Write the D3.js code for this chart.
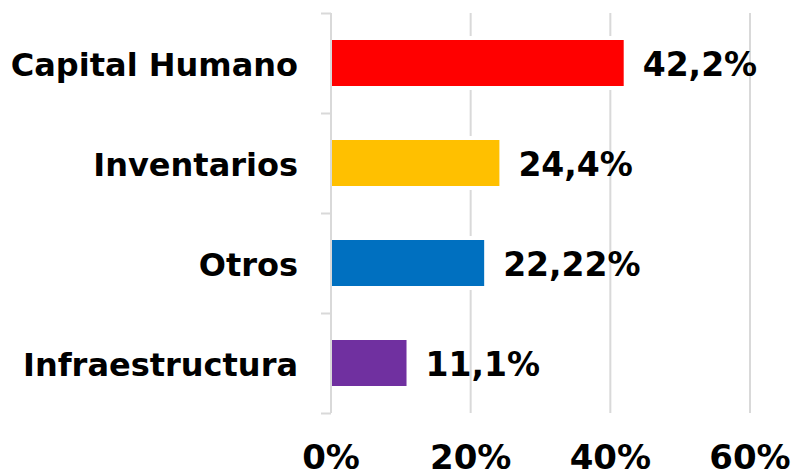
<!DOCTYPE html>
<html>
<head>
<meta charset="utf-8">
<script src="https://cdn.jsdelivr.net/npm/d3@7"></script>
<style>
  body { margin: 0; background: #fff; }
  text { font-family: "DejaVu Sans", Verdana, sans-serif; font-weight: bold; fill: #000; }
</style>
</head>
<body>
<svg id="chart" width="796" height="469"></svg>
<script>
// datos
const categorias = ["Capital Humano", "Inventarios", "Otros", "Infraestructura"];
const valores = [42.2, 24.4, 22.22, 11.1];
const etiquetas = ["42,2%", "24,4%", "22,22%", "11,1%"];
const colores = ["#FF0000", "#FFC000", "#0070C0", "#7030A0"];
const ticksX = [0, 20, 40, 60];

const svg = d3.select("#chart");

const x = d3.scaleLinear().domain([0, 60]).range([331, 750]);
const y = d3.scaleBand().domain(categorias).range([13, 413]).paddingInner(0.54).paddingOuter(0.27);

// lineas de cuadricula
svg.append("g")
  .selectAll("line")
  .data(ticksX.slice(1))
  .enter().append("line")
    .attr("x1", d => x(d)).attr("x2", d => x(d))
    .attr("y1", 13).attr("y2", 413)
    .attr("stroke", "#d9d9d9")
    .attr("stroke-width", 2);

// barras
svg.append("g")
  .selectAll("rect")
  .data(categorias)
  .enter().append("rect")
    .attr("x", x(0) + 1)
    .attr("y", d => y(d))
    .attr("width", (d, i) => x(valores[i]) - x(0) - 3)
    .attr("height", y.bandwidth())
    .attr("fill", (d, i) => colores[i])
    .attr("stroke", "#fff")
    .attr("stroke-width", 8)
    .attr("paint-order", "stroke");

// eje vertical
const ejeY = svg.append("g")
  .attr("transform", `translate(${x(0)},0)`)
  .call(d3.axisLeft(d3.scaleLinear().domain([0, 4]).range([413, 13])).ticks(4).tickSize(10).tickFormat(""));
ejeY.selectAll("path, line").attr("stroke", "#d9d9d9").attr("stroke-width", 2);
ejeY.select(".domain").attr("d", "M0,13V413");

// etiquetas de categoria
svg.append("g")
  .selectAll("text")
  .data(categorias)
  .enter().append("text")
    .attr("x", 298)
    .attr("y", d => y(d) + y.bandwidth() / 2 + 12.5)
    .attr("text-anchor", "end")
    .style("font-size", "32px")
    .text(d => d);

// etiquetas de valor
svg.append("g")
  .selectAll("text")
  .data(categorias)
  .enter().append("text")
    .attr("x", (d, i) => x(valores[i]) + 17)
    .attr("y", d => y(d) + y.bandwidth() / 2 + 13)
    .style("font-size", "33px")
    .text((d, i) => etiquetas[i]);

// etiquetas eje x
svg.append("g")
  .selectAll("text")
  .data(ticksX)
  .enter().append("text")
    .attr("x", d => x(d))
    .attr("y", 469)
    .attr("text-anchor", "middle")
    .style("font-size", "34px")
    .text(d => d + "%");
</script>
</body>
</html>
